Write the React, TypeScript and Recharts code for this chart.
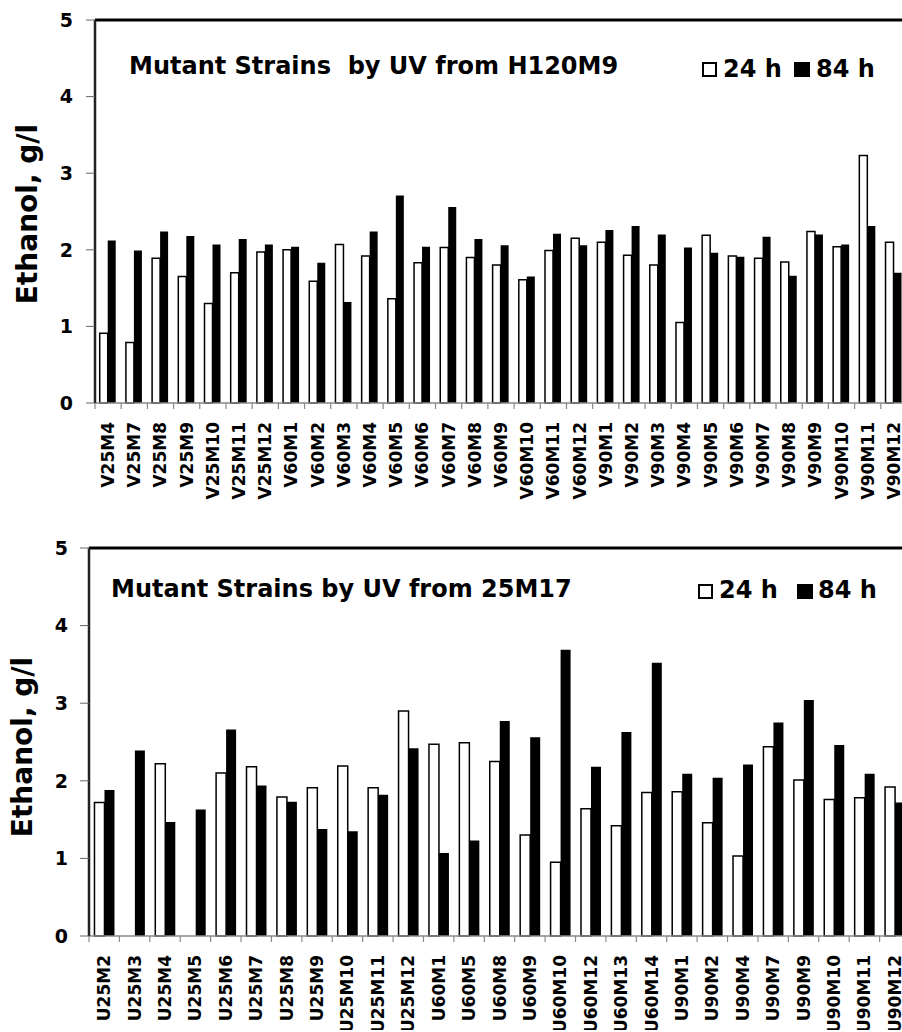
import { BarChart, Bar, XAxis, YAxis, ReferenceLine, Customized } from 'recharts'

const FONT = "'DejaVu Sans', Verdana, sans-serif"

const topCategories = [
  'V25M4', 'V25M7', 'V25M8', 'V25M9', 'V25M10', 'V25M11', 'V25M12',
  'V60M1', 'V60M2', 'V60M3', 'V60M4', 'V60M5', 'V60M6', 'V60M7', 'V60M8',
  'V60M9', 'V60M10', 'V60M11', 'V60M12',
  'V90M1', 'V90M2', 'V90M3', 'V90M4', 'V90M5', 'V90M6', 'V90M7', 'V90M8',
  'V90M9', 'V90M10', 'V90M11', 'V90M12',
]
const top24h = [
  0.91, 0.79, 1.89, 1.65, 1.3, 1.7, 1.97,
  2.0, 1.59, 2.07, 1.92, 1.36, 1.83, 2.03, 1.9,
  1.8, 1.61, 1.99, 2.15,
  2.1, 1.93, 1.8, 1.05, 2.19, 1.92, 1.89, 1.84,
  2.24, 2.04, 3.23, 2.1,
]
const top84h = [
  2.12, 1.99, 2.24, 2.18, 2.07, 2.14, 2.07,
  2.04, 1.83, 1.32, 2.24, 2.71, 2.04, 2.56, 2.14,
  2.06, 1.65, 2.21, 2.06,
  2.26, 2.31, 2.2, 2.03, 1.96, 1.91, 2.17, 1.66,
  2.2, 2.07, 2.31, 1.7,
]

const bottomCategories = [
  'U25M2', 'U25M3', 'U25M4', 'U25M5', 'U25M6', 'U25M7', 'U25M8', 'U25M9',
  'U25M10', 'U25M11', 'U25M12',
  'U60M1', 'U60M5', 'U60M8', 'U60M9', 'U60M10', 'U60M12', 'U60M13', 'U60M14',
  'U90M1', 'U90M2', 'U90M4', 'U90M7', 'U90M9', 'U90M10', 'U90M11', 'U90M12',
]
const bottom24h = [
  1.72, 0, 2.22, 0, 2.1, 2.18, 1.79, 1.91,
  2.19, 1.91, 2.9,
  2.47, 2.49, 2.25, 1.3, 0.95, 1.64, 1.42, 1.85,
  1.86, 1.46, 1.03, 2.44, 2.01, 1.76, 1.78, 1.92,
]
const bottom84h = [
  1.88, 2.39, 1.47, 1.63, 2.66, 1.94, 1.73, 1.38,
  1.35, 1.82, 2.42,
  1.07, 1.23, 2.77, 2.56, 3.69, 2.18, 2.63, 3.52,
  2.09, 2.04, 2.21, 2.75, 3.04, 2.46, 2.09, 1.72,
]

const yTicks = [0, 1, 2, 3, 4, 5]

function makeTick(half: number) {
  return function CategoryTick(props: any) {
    const { x, y, payload } = props
    const h = typeof payload?.offset === 'number' && payload.offset > 0 ? payload.offset : half
    return (
      <g>
        <line x1={x - h} x2={x - h} y1={y} y2={y + 6} stroke="#888" strokeWidth={1.2} />
        <text
          x={x + 6}
          y={y + 19}
          transform={`rotate(-90 ${x + 6} ${y + 19})`}
          textAnchor="end"
          fontFamily={FONT}
          fontWeight="bold"
          fontSize={17}
          fill="#000"
        >
          {payload.value}
        </text>
      </g>
    )
  }
}

function Header({ title, tx, ty, bx, by, t24, b84x, t84, ly }: any) {
  return (
    <g fontFamily={FONT} fontWeight="bold" fontSize={24} fill="#000">
      <text x={tx} y={ty} style={{ whiteSpace: 'pre' }}>{title}</text>
      <rect x={bx} y={by} width={13} height={13} fill="#fff" stroke="#000" strokeWidth={2} />
      <text x={t24} y={ly}>24 h</text>
      <rect x={b84x} y={by - 1} width={16} height={15} fill="#000" />
      <text x={t84} y={ly}>84 h</text>
    </g>
  )
}

function YTitle({ x, y }: { x: number; y: number }) {
  return (
    <text
      x={x}
      y={y}
      transform={`rotate(-90 ${x} ${y})`}
      textAnchor="middle"
      fontFamily={FONT}
      fontWeight="bold"
      fontSize={28}
      fill="#000"
    >
      Ethanol, g/l
    </text>
  )
}

const topData = topCategories.map((name, i) => ({ name, h24: top24h[i], h84: top84h[i] }))
const bottomData = bottomCategories.map((name, i) => ({ name, h24: bottom24h[i], h84: bottom84h[i] }))

const yTickStyle = { fontFamily: FONT, fontWeight: 'bold', fontSize: 19, fill: '#000' }

export default function App() {
  return (
    <div style={{ position: 'absolute', left: 0, top: 0, width: 902, height: 1032, overflow: 'hidden', background: '#fff' }}>
      <div style={{ position: 'absolute', left: 0, top: 0 }}>
        <BarChart
          width={912}
          height={520}
          data={topData}
          margin={{ top: 20, right: 5, left: 0, bottom: 17 }}
          barCategoryGap="18%"
          barGap={0}
        >
          <XAxis
            dataKey="name"
            interval={0}
            height={100}
            tickLine={false}
            tickSize={0}
            tickMargin={0}
            axisLine={{ stroke: '#888', strokeWidth: 1.5 }}
            tick={makeTick(812 / 31 / 2)}
          />
          <YAxis
            type="number"
            domain={[0, 5]}
            ticks={yTicks}
            width={95}
            tickSize={9}
            tickMargin={13}
            tick={yTickStyle}
            tickLine={{ stroke: '#666' }}
            axisLine={{ stroke: '#222', strokeWidth: 2.5 }}
          />
          <ReferenceLine y={5} stroke="#000" strokeWidth={3} />
          <Bar dataKey="h24" fill="#fff" stroke="#000" strokeWidth={1.5} isAnimationActive={false} />
          <Bar dataKey="h84" fill="#000" isAnimationActive={false} />
          <Customized
            component={() => (
              <g>
                <YTitle x={37} y={214} />
                <Header
                  title="Mutant Strains  by UV from H120M9"
                  tx={129} ty={74}
                  bx={703} by={63}
                  t24={723} b84x={794} t84={816} ly={77}
                />
              </g>
            )}
          />
        </BarChart>
      </div>
      <div style={{ position: 'absolute', left: 0, top: 530 }}>
        <BarChart
          width={915}
          height={500}
          data={bottomData}
          margin={{ top: 18, right: 5, left: 0, bottom: 4 }}
          barCategoryGap="18%"
          barGap={0}
        >
          <XAxis
            dataKey="name"
            interval={0}
            height={90}
            tickLine={false}
            tickSize={0}
            tickMargin={0}
            axisLine={{ stroke: '#888', strokeWidth: 1.5 }}
            tick={makeTick(821 / 27 / 2)}
          />
          <YAxis
            type="number"
            domain={[0, 5]}
            ticks={yTicks}
            width={89}
            tickSize={9}
            tickMargin={12}
            tick={yTickStyle}
            tickLine={{ stroke: '#666' }}
            axisLine={{ stroke: '#222', strokeWidth: 2.5 }}
          />
          <ReferenceLine y={5} stroke="#000" strokeWidth={3} />
          <Bar dataKey="h24" fill="#fff" stroke="#000" strokeWidth={1.5} isAnimationActive={false} />
          <Bar dataKey="h84" fill="#000" isAnimationActive={false} />
          <Customized
            component={() => (
              <g>
                <YTitle x={32} y={217} />
                <Header
                  title="Mutant Strains by UV from 25M17"
                  tx={111} ty={67}
                  bx={699} by={55}
                  t24={719} b84x={797} t84={818} ly={68}
                />
              </g>
            )}
          />
        </BarChart>
      </div>
    </div>
  )
}
